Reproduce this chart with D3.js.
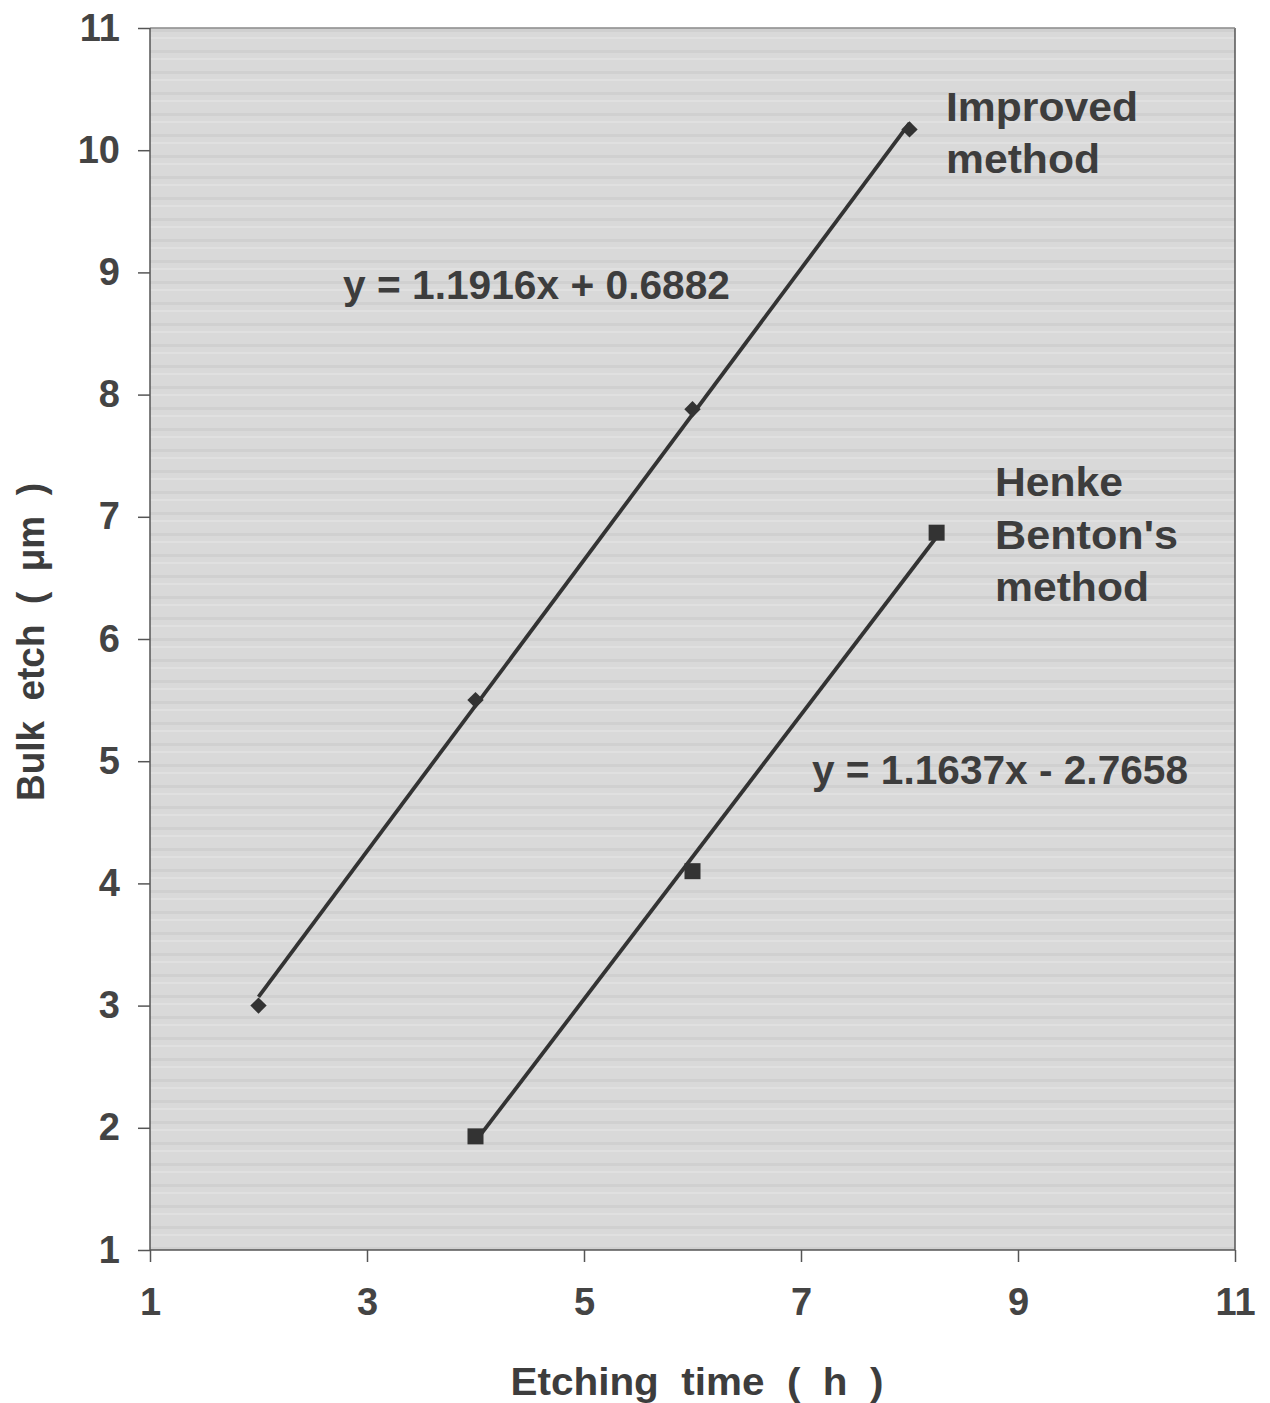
<!DOCTYPE html>
<html>
<head>
<meta charset="utf-8">
<script src="https://cdn.jsdelivr.net/npm/d3@7"></script>
<style>
  html, body { margin: 0; padding: 0; background: #ffffff; }
  svg { display: block; }
</style>
</head>
<body>
<svg id="chart" width="1270" height="1403"></svg>
<script>
// ---- data ----
const improvedX = [2, 4, 6, 8];
const improvedY = [3.0, 5.5, 7.88, 10.17];
const hentonX = [4, 6, 8.25];
const hentonY = [1.93, 4.1, 6.87];
const improvedFit = [1.1916, 0.6882];   // slope, intercept
const hentonFit = [1.1637, -2.7658];
const xTicks = [1, 3, 5, 7, 9, 11];
const yTicks = [1, 2, 3, 4, 5, 6, 7, 8, 9, 10, 11];
const improvedLabel = ["Improved", "method"];
const hentonLabel = ["Henke", "Benton's", "method"];
const improvedEq = "y = 1.1916x + 0.6882";
const hentonEq = "y = 1.1637x - 2.7658";
const xTitle = "Etching  time  (  h  )";
const yTitle = "Bulk  etch  (  μm  )";

// ---- layout ----
const svg = d3.select("#chart");
const L = 150, R = 1235, T = 28, B = 1250;
const x = d3.scaleLinear().domain([1, 11]).range([L, R]);
const y = d3.scaleLinear().domain([1, 11]).range([B, T]);
const ink = "#333333";
const textCol = "#3d3d3d";
const font = "'Liberation Sans', Arial, sans-serif";

// background with faint horizontal stripe texture
const defs = svg.append("defs");
const pat = defs.append("pattern").attr("id", "stripes")
  .attr("patternUnits", "userSpaceOnUse").attr("width", 40).attr("height", 21);
pat.append("rect").attr("width", 40).attr("height", 21).attr("fill", "#d9d9d9");
pat.append("rect").attr("y", 8).attr("width", 40).attr("height", 3).attr("fill", "#d0d0d0");
pat.append("rect").attr("y", 16).attr("width", 40).attr("height", 2).attr("fill", "#e0e0e0");

svg.append("rect").attr("x", L).attr("y", T).attr("width", R - L).attr("height", B - T)
  .attr("fill", "url(#stripes)");
svg.append("line").attr("x1", R).attr("x2", R).attr("y1", T).attr("y2", B)
  .attr("stroke", "#555").attr("stroke-width", 1.5);
svg.append("line").attr("x1", L).attr("x2", R).attr("y1", T).attr("y2", T)
  .attr("stroke", "#888").attr("stroke-width", 1.5);

// axes
const xAxis = svg.append("g").attr("transform", `translate(0,${B})`)
  .call(d3.axisBottom(x).tickValues(xTicks).tickSize(12).tickPadding(26).tickFormat(d3.format("d")));
const yAxis = svg.append("g").attr("transform", `translate(${L},0)`)
  .call(d3.axisLeft(y).tickValues(yTicks).tickSize(12).tickPadding(18).tickFormat(d3.format("d")));
[xAxis, yAxis].forEach(g => {
  g.select(".domain").attr("stroke", "#555").attr("stroke-width", 1.5);
  g.selectAll(".tick line").attr("stroke", "#555").attr("stroke-width", 1.5);
  g.selectAll(".tick text").attr("fill", "#444").attr("font-family", font)
    .attr("font-weight", "bold").attr("font-size", 38);
});
xAxis.select(".domain").attr("d", `M${L},0H${R}`);
yAxis.select(".domain").attr("d", `M0,${B}V${T}`);

// axis titles
svg.append("text").attr("x", 697).attr("y", 1395).attr("text-anchor", "middle")
  .attr("font-family", font).attr("font-weight", "bold").attr("font-size", 38)
  .attr("textLength", 373).attr("lengthAdjust", "spacingAndGlyphs")
  .attr("fill", textCol).style("white-space", "pre").text(xTitle);
svg.append("text").attr("transform", "translate(44,642) rotate(-90)").attr("text-anchor", "middle")
  .attr("font-family", font).attr("font-weight", "bold").attr("font-size", 38)
  .attr("textLength", 318).attr("lengthAdjust", "spacingAndGlyphs")
  .attr("fill", textCol).style("white-space", "pre").text(yTitle);

// trend lines
function trend(fit, xs) {
  const x0 = d3.min(xs), x1 = d3.max(xs);
  return [[x0, fit[0] * x0 + fit[1]], [x1, fit[0] * x1 + fit[1]]];
}
const line = d3.line().x(d => x(d[0])).y(d => y(d[1]));
svg.append("path").attr("d", line(trend(improvedFit, improvedX)))
  .attr("stroke", ink).attr("stroke-width", 3.8).attr("fill", "none");
svg.append("path").attr("d", line(trend(hentonFit, hentonX)))
  .attr("stroke", ink).attr("stroke-width", 3.8).attr("fill", "none");

// markers
const improvedPts = improvedX.map((v, i) => [v, improvedY[i]]);
const hentonPts = hentonX.map((v, i) => [v, hentonY[i]]);
svg.append("g").selectAll("path").data(improvedPts).join("path")
  .attr("d", d3.symbol(d3.symbolDiamond2, 170)())
  .attr("transform", d => `translate(${x(d[0])},${y(d[1])})`)
  .attr("fill", ink);
svg.append("g").selectAll("rect").data(hentonPts).join("rect")
  .attr("x", d => x(d[0]) - 8).attr("y", d => y(d[1]) - 8)
  .attr("width", 16).attr("height", 16).attr("fill", ink);

// annotations: [text, x, baseline y, width]
function label(s, x0, y0, w) {
  svg.append("text").attr("x", x0).attr("y", y0)
    .attr("font-family", font).attr("font-weight", "bold").attr("font-size", 40)
    .attr("textLength", w).attr("lengthAdjust", "spacingAndGlyphs")
    .attr("fill", textCol).text(s);
}
label(improvedLabel[0], 946, 121, 192);
label(improvedLabel[1], 946, 173, 154);
label(hentonLabel[0], 995, 496, 128);
label(hentonLabel[1], 995, 549, 183);
label(hentonLabel[2], 995, 601, 154);
label(improvedEq, 343, 299, 387);
label(hentonEq, 812, 784, 376);
</script>
</body>
</html>
